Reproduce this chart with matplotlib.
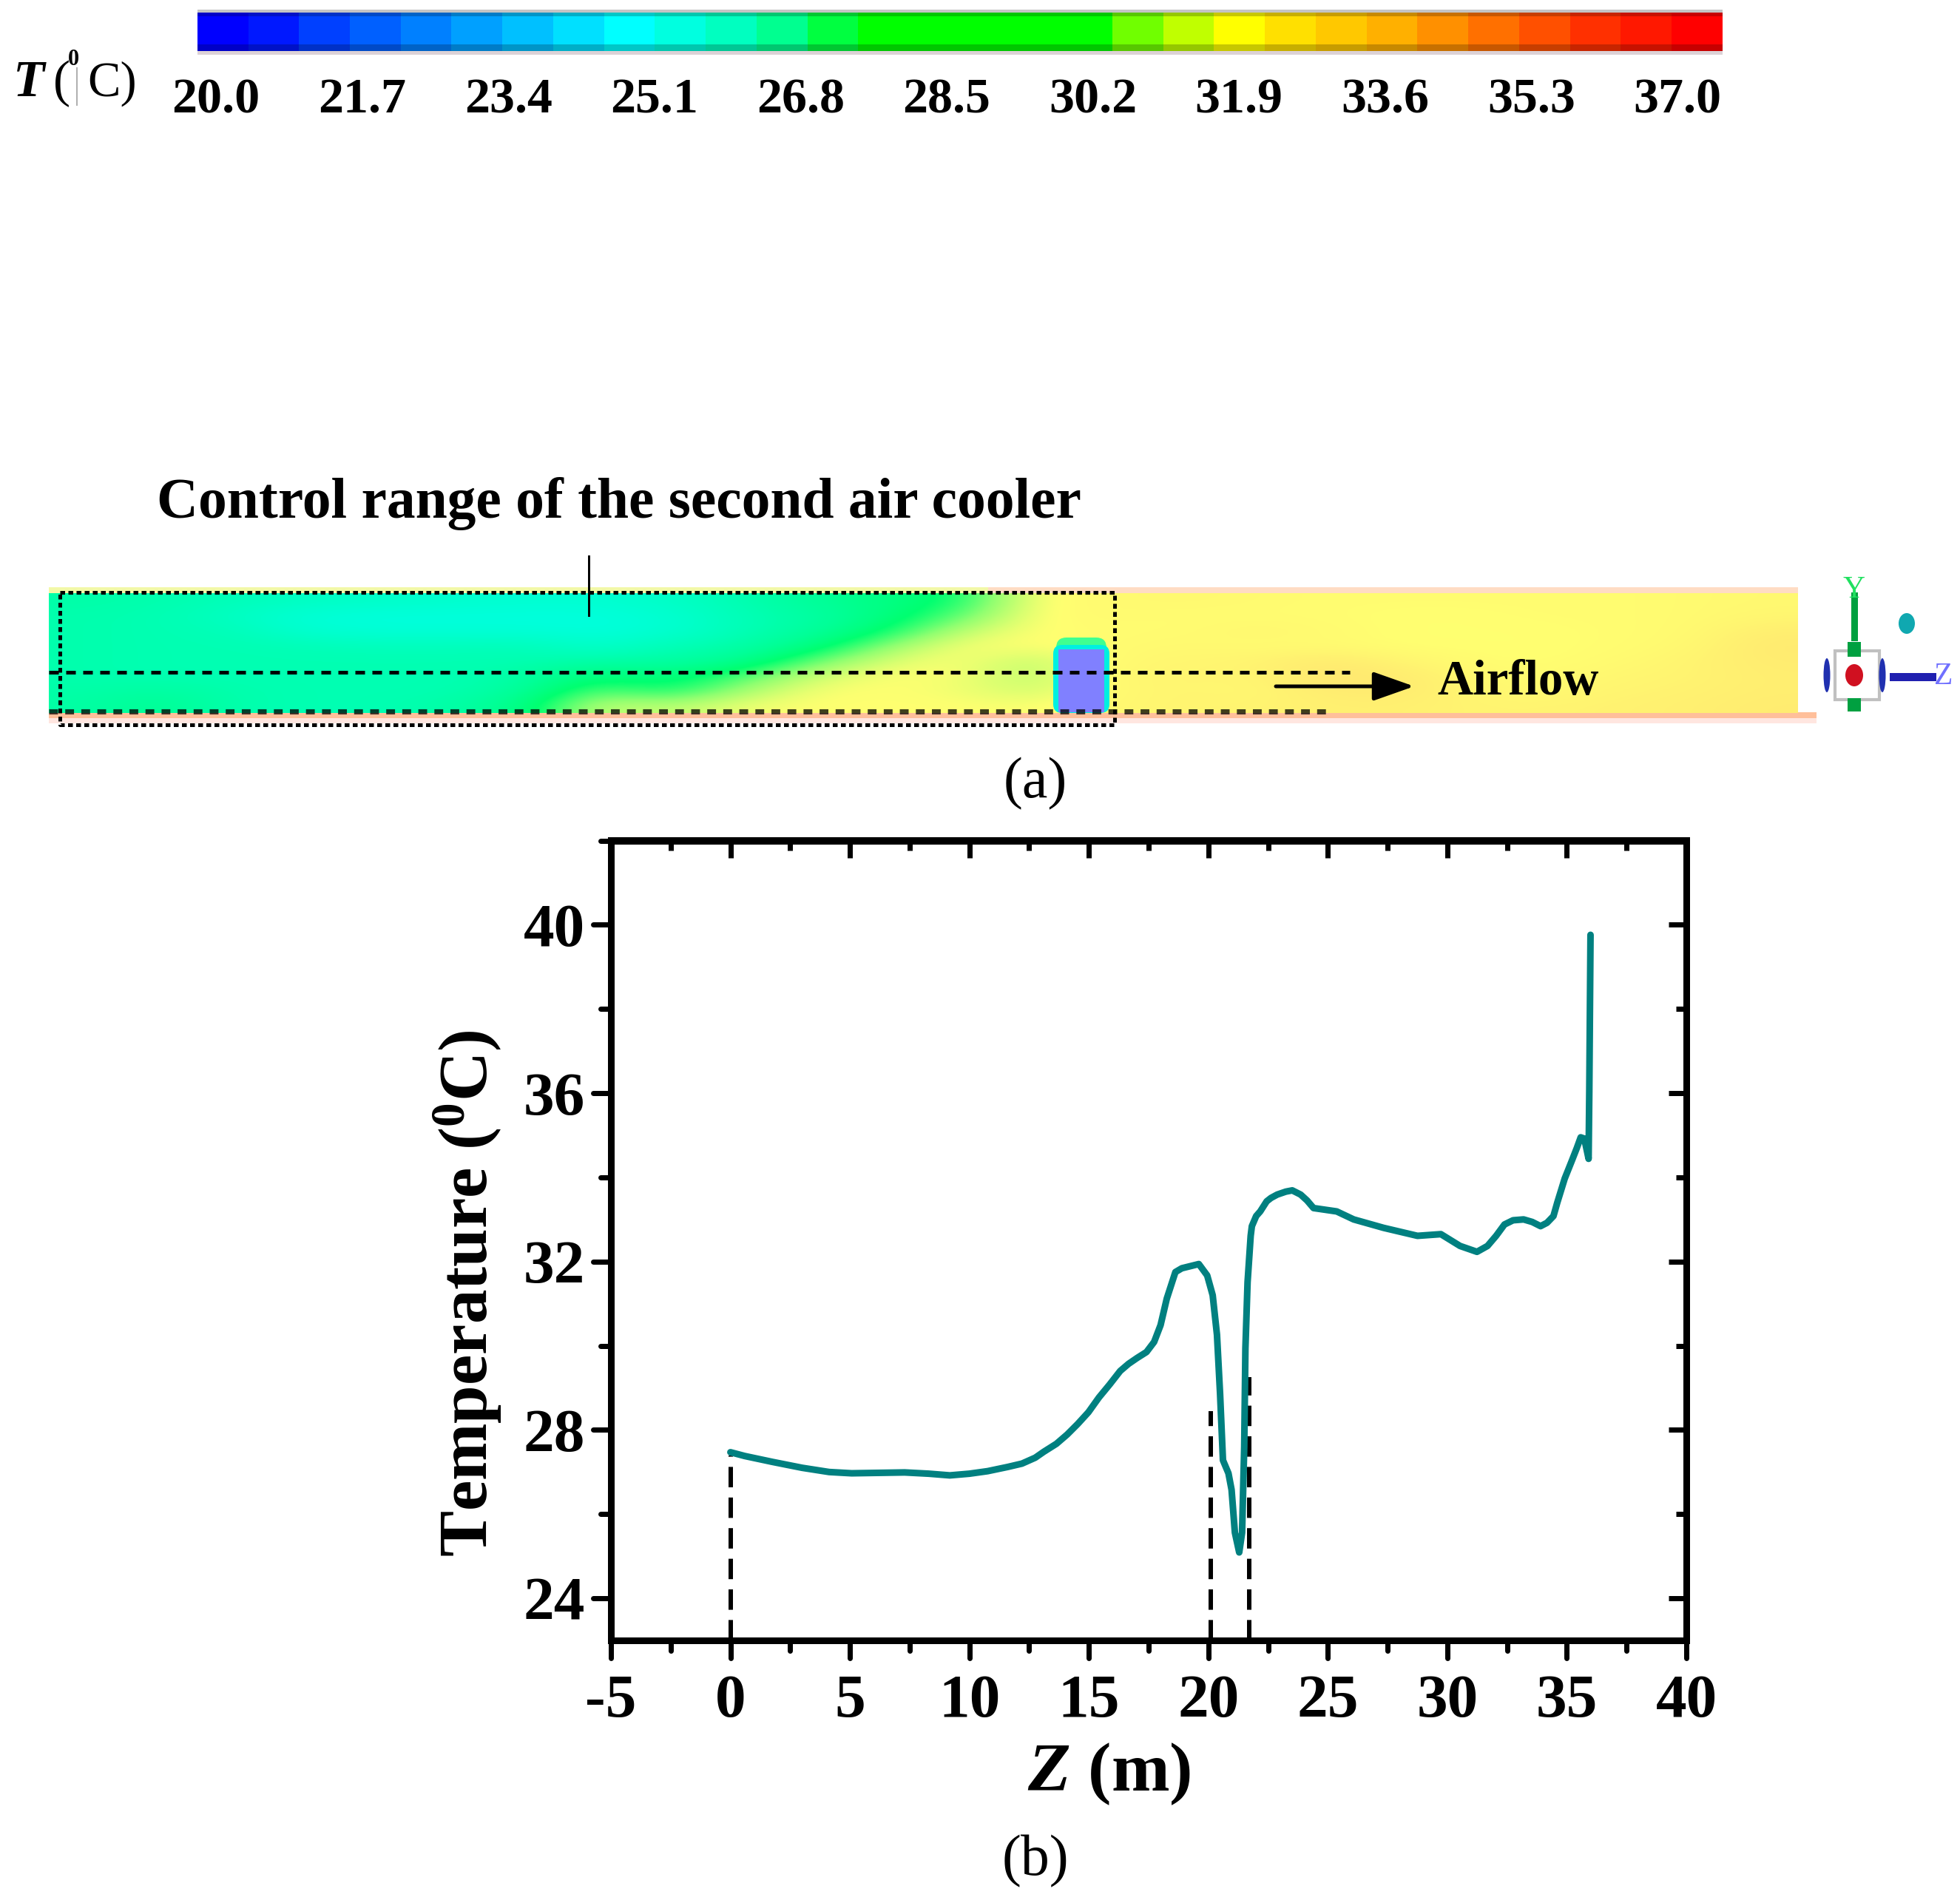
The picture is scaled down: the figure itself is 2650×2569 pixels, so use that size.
import numpy as np
import matplotlib
matplotlib.use("Agg")
import matplotlib.pyplot as plt
from matplotlib.colors import ListedColormap, LinearSegmentedColormap
from matplotlib.patches import Rectangle, FancyArrowPatch, FancyBboxPatch, Ellipse
from matplotlib import markers as mk
from matplotlib.ticker import MultipleLocator

plt.rcParams['font.family'] = ['Liberation Serif', 'DejaVu Serif']
plt.rcParams['font.weight'] = 'bold'
plt.rcParams['mathtext.fontset'] = 'custom'
plt.rcParams['mathtext.rm'] = 'Liberation Serif:bold'
plt.rcParams['mathtext.it'] = 'Liberation Serif:italic:bold'
plt.rcParams['mathtext.bf'] = 'Liberation Serif:bold'

# ---------- data ----------
z_m = [0, 0.6, 1.76, 3.0, 4.13, 5.07, 6.2, 7.29, 8.3, 9.18, 10.0, 10.76, 11.6, 12.2, 12.755,
       13.11, 13.64, 14.09, 14.53, 14.98, 15.42, 15.87, 16.31, 16.66, 17.02, 17.41, 17.73, 18.0, 18.26, 18.62,
       18.89, 19.6, 19.95, 20.18,
       20.36, 20.49, 20.61, 20.84, 20.97, 21.11, 21.29, 21.41, 21.5, 21.55, 21.64, 21.77, 21.82, 22.0, 22.17,
       22.44, 22.62, 22.88, 23.24, 23.51, 23.86, 24.13, 24.4, 25.37, 26.08, 27.33, 28.75, 29.73, 30.53, 31.24, 31.68,
       32.04, 32.39, 32.75, 33.19, 33.55, 33.9, 34.17, 34.44, 34.6, 34.91, 35.22, 35.42, 35.58, 35.73, 35.91, 35.94, 35.99]
temp_c = [27.47, 27.38, 27.24, 27.1, 27.0, 26.97, 26.98, 26.99, 26.96, 26.92, 26.96, 27.02, 27.12, 27.2, 27.34,
          27.48, 27.67, 27.89, 28.14, 28.42, 28.77, 29.08, 29.40, 29.57, 29.71, 29.85, 30.09, 30.49, 31.12, 31.75,
          31.84, 31.94, 31.67, 31.2,
          30.26, 28.85, 27.28, 26.97, 26.58, 25.56, 25.09, 25.56, 27.6, 29.94, 31.51, 32.61, 32.84, 33.08, 33.19,
          33.43, 33.51, 33.59, 33.66, 33.69, 33.59, 33.45, 33.27, 33.19, 33.0, 32.8, 32.61, 32.65, 32.37, 32.23, 32.37,
          32.61, 32.88, 32.98, 33.0, 32.94, 32.84, 32.92, 33.08, 33.4, 33.97, 34.41, 34.7, 34.95, 34.92, 34.44, 36.08, 39.76]
marker_z = [0, 20.1, 21.7]
marker_top = [27.4, 28.44, 29.26]
x_ticks = [-5, 0, 5, 10, 15, 20, 25, 30, 35, 40]
y_ticks = [24, 28, 32, 36, 40]
legend_values = [20.0, 21.7, 23.4, 25.1, 26.8, 28.5, 30.2, 31.9, 33.6, 35.3, 37.0]
legend_colors = ['#0000ff', '#0018ff', '#0040ff', '#0060ff', '#0080ff', '#00a0ff', '#00c0ff', '#00e0ff',
                 '#00ffff', '#00ffe0', '#00ffc0', '#00ff90', '#00ff40', '#00ff00', '#00ff00', '#00ff00',
                 '#00ff00', '#00ff00', '#70ff00', '#c0ff00', '#ffff00', '#ffe000', '#ffc800', '#ffb000',
                 '#ff9000', '#ff7000', '#ff5000', '#ff3000', '#ff1800', '#ff0000']
field_temp = np.array([
 [26.0,25.9,25.7,25.5,25.4,25.3,25.2,25.2,25.4,25.8,26.4,27.0,27.6,30.5,30.7,30.8,30.7,30.6,30.6,30.6,30.6,30.6,30.7,30.8],
 [25.9,25.8,25.5,25.1,25.0,25.0,25.0,25.0,25.2,25.7,26.1,27.0,28.4,30.5,30.7,30.6,30.6,30.6,30.5,30.5,30.6,30.6,30.7,30.9],
 [25.9,25.8,25.7,25.2,25.1,25.1,25.1,25.0,25.2,25.7,26.2,27.5,29.6,30.5,30.6,30.6,30.9,30.7,30.5,30.5,30.5,30.6,30.7,31.3],
 [25.9,25.8,25.8,25.7,25.6,25.6,25.7,25.3,25.7,25.9,26.9,29.0,30.4,30.5,30.6,30.8,30.6,30.7,30.5,30.5,30.5,30.6,30.8,31.5],
 [25.9,25.8,25.8,25.8,25.8,25.8,25.8,25.9,26.0,26.5,28.5,30.0,30.5,29.6,30.7,30.9,31.0,31.5,31.0,30.6,30.5,30.7,31.0,31.4],
 [25.9,25.8,25.8,25.8,25.8,25.8,26.0,27.3,27.0,28.2,29.8,30.5,30.4,29.5,30.8,31.0,30.9,31.7,31.5,30.8,30.6,30.9,31.0,31.3],
 [26.0,26.2,25.9,25.8,25.8,25.8,26.2,28.5,27.5,29.2,30.4,30.5,30.3,29.8,30.7,31.0,30.8,31.4,31.5,30.9,30.7,31.0,31.1,31.3],
 [26.1,26.6,25.9,25.8,25.8,26.0,26.8,29.8,29.5,30.3,30.5,30.5,30.5,30.4,30.8,31.0,31.0,31.2,31.2,31.0,31.0,31.1,31.2,31.4],
])
field_levels = [22.0, 23.5, 25.0, 26.0, 27.5, 29.0, 30.5, 32.0, 33.5, 35.0]
field_shades = ['#8080ff', '#00e8ff', '#00ffdc', '#00ffa8', '#00ff70', '#90ff70', '#ffff70', '#ffe070', '#ffb070', '#ff9090']

W, H = 2650, 2569
fig = plt.figure(figsize=(W / 100, H / 100), dpi=100, facecolor='white')
px = 72 / 100


def rect(x0, y0, x1, y1):
    return [x0 / W, 1 - y1 / H, (x1 - x0) / W, (y1 - y0) / H]


# ---------- overlay in pixel space ----------
ov = fig.add_axes([0, 0, 1, 1], zorder=1)
ov.axis('off')
lo, hi = field_levels[0], field_levels[-1]
fcmap = LinearSegmentedColormap.from_list(
    'field', [((v - lo) / (hi - lo), c) for v, c in zip(field_levels, field_shades)], N=512)
ov.add_patch(Rectangle((66, 794), 1270, 9, fc='#f2f8a8', ec='none', zorder=1))
ov.add_patch(Rectangle((1336, 794), 1095, 9, fc='#ffdcc4', ec='none', zorder=1))
ov.add_patch(Rectangle((66, 963), 2390, 8, fc='#ffbf9a', ec='none', zorder=1))
ov.add_patch(Rectangle((66, 971), 2390, 7, fc='#ffe6e0', ec='none', zorder=1))
ov.imshow(field_temp, extent=(66, 2431, 964, 802), cmap=fcmap, vmin=lo, vmax=hi,
          interpolation='bicubic', aspect='auto', zorder=2)
ov.set_xlim(0, W)
ov.set_ylim(H, 0)
# cooler block
ov.add_patch(FancyBboxPatch((1428, 862), 68, 102, boxstyle='round,pad=0,rounding_size=14', fc='#40ff90', ec='none', zorder=3))
ov.add_patch(FancyBboxPatch((1424, 872), 76, 92, boxstyle='round,pad=0,rounding_size=12', fc='#00f0e0', ec='none', zorder=3))
ov.add_patch(Rectangle((1431, 878), 62, 85, fc='#8080ff', ec='none', zorder=3))

ov.plot([81, 1507, 1507, 81, 81], [801, 801, 980, 980, 801], color='black', lw=5 * px,
        dashes=(1.3, 0.9), zorder=5)
ov.plot([66, 1825], [909, 909], color='black', lw=5 * px, dashes=(2.6, 2.0), zorder=5)
ov.plot([66, 1799], [962, 962], color='#000000', alpha=0.75, lw=7 * px, dashes=(1.7, 1.4), zorder=5)
ov.plot([796, 796], [752, 832], color='black', lw=3 * px, zorder=5)
ov.add_patch(FancyArrowPatch((1725, 928), (1912, 928), arrowstyle='-|>,head_length=34,head_width=12',
                             mutation_scale=1, lw=5 * px, color='black', shrinkA=0, shrinkB=0, zorder=6))
ov.text(1943, 939, 'Airflow', fontsize=48, ha='left', va='baseline', zorder=6)
ov.text(212, 700, 'Control range of the second air cooler', fontsize=55.8, ha='left', va='baseline', zorder=6)
ov.text(1400, 1060, '(a)', fontsize=56, fontweight='normal', ha='center', va='center', zorder=6)
ov.text(1400, 2517, '(b)', fontsize=56, fontweight='normal', ha='center', va='center', zorder=6)

# coordinate triad
ov.add_patch(Rectangle((2481, 880), 60, 66, fc='white', ec='#c0c0c0', lw=3, zorder=5))
ov.add_patch(Ellipse((2507, 913), 24, 30, fc='#d01020', ec='none', zorder=6))
ov.add_patch(Ellipse((2578, 843), 22, 28, fc='#10a8b0', ec='none', zorder=6))
ov.add_patch(Rectangle((2498, 868), 18, 20, fc='#00a040', ec='none', zorder=6))
ov.add_patch(Rectangle((2498, 944), 18, 18, fc='#00a040', ec='none', zorder=6))
ov.add_patch(Ellipse((2470, 913), 9, 46, fc='#2030b0', ec='none', zorder=6))
ov.add_patch(Ellipse((2545, 913), 9, 46, fc='#2030b0', ec='none', zorder=6))
ov.plot([2507, 2507], [805, 862], color='#00a040', lw=9 * px, zorder=6)
ov.plot([2560, 2612], [915, 915], color='#2020b0', lw=11 * px, zorder=6)
ov.text(2507, 778, 'Y', color='#20e060', fontsize=30, fontweight='normal', ha='center', va='top', zorder=6)
ov.text(2615, 915, 'Z', color='#7070ff', fontsize=30, fontweight='normal', ha='left', va='center', zorder=6)

# colour bar title
ov.text(18, 130, 'T', style='italic', fontsize=50, ha='left', va='baseline')
ov.text(72, 130, '(', fontsize=50, fontweight='normal', ha='left', va='baseline')
ov.text(92, 88, '0', fontsize=22, ha='left', va='baseline')
ov.text(118, 130, 'C)', fontsize=48, fontweight='normal', ha='left', va='baseline')
ov.plot([104, 104], [92, 142], color='#b0b0b0', lw=2 * px)

# ---------- colour bar ----------
cb = fig.add_axes(rect(267, 17, 2329, 69), zorder=2)
cb_left = 20 - 25 / 116.2
cb_right = 37 + 61 / 116.2
cb.imshow(np.arange(len(legend_colors))[None, :], cmap=ListedColormap(legend_colors), aspect='auto',
          extent=(cb_left, cb_right, 0, 1), interpolation='nearest')
cb.set_xlim(cb_left, cb_right)
cb.set_yticks([])
cb.set_xticks(legend_values)
cb.set_xticklabels([f'{v:.1f}' for v in legend_values], fontsize=49, fontweight='bold')
cb.tick_params(axis='x', length=0, pad=26)
for s in cb.spines.values():
    s.set_visible(False)
cb.add_patch(Rectangle((0, 0.9), 1, 0.1, transform=cb.transAxes, fc='black', alpha=0.22, ec='none'))
cb.add_patch(Rectangle((0, 0), 1, 0.17, transform=cb.transAxes, fc='black', alpha=0.22, ec='none'))
ov.add_patch(Rectangle((267, 13), 2062, 4, fc='#c4c4c4', ec='none'))
ov.add_patch(Rectangle((267, 69), 2062, 5, fc='#dcd2d6', ec='none'))

# ---------- line chart ----------
ax = fig.add_axes(rect(826, 1136.5, 2280, 2218), zorder=3)
ax.patch.set_alpha(0)
for zm, top_t in zip(marker_z, marker_top):
    ax.plot([zm, zm], [23, top_t], color='black', lw=6 * px, linestyle=(0, (4.6, 2.3)), dash_capstyle='butt', zorder=2)
ax.plot(z_m, temp_c, color='#008080', lw=9 * px, solid_joinstyle='round', solid_capstyle='round', zorder=3)
ax.set_xlim(-5, 40)
ax.set_ylim(23, 42)
ax.xaxis.set_major_locator(plt.FixedLocator(x_ticks))
ax.yaxis.set_major_locator(plt.FixedLocator(y_ticks))
ax.minorticks_on()
ax.xaxis.set_minor_locator(MultipleLocator(2.5))
ax.yaxis.set_minor_locator(MultipleLocator(2))
ax.set_xticklabels([str(v) for v in x_ticks])
ax.set_yticklabels([str(v) for v in y_ticks])
for s in ax.spines.values():
    s.set_linewidth(9 * px)
ax.tick_params(which='major', length=24 * px, width=7 * px, direction='out', labelsize=60)
ax.tick_params(which='minor', length=14 * px, width=7 * px, direction='out')
ax.tick_params(axis='x', which='major', pad=16)
ax.tick_params(axis='y', which='major', pad=8)
ax.set_xlabel(r'$\mathit{Z}$ (m)', fontsize=68, fontweight='bold')
ax.set_ylabel(r'Temperature ($\mathregular{^{0}}$C)', fontsize=67, fontweight='bold')
ax.xaxis.set_label_coords((1500 - 826) / 1454, -(2421 - 2218) / 1082, transform=ax.transAxes)
ax.xaxis.label.set_verticalalignment('baseline')
ax.yaxis.set_label_coords(-(826 - 659) / 1454, (2218 - 1749) / 1082, transform=ax.transAxes)
ax.yaxis.label.set_verticalalignment('baseline')

top = ax.secondary_xaxis('top')
right = ax.secondary_yaxis('right')
for sec, loc in ((top, x_ticks), (right, y_ticks)):
    sec.set_ticks(loc)
    sec.minorticks_on()
    sec.tick_params(which='major', length=24 * px, width=7 * px, direction='in', labelsize=0,
                    labeltop=False, labelright=False)
    sec.tick_params(which='minor', length=14 * px, width=7 * px, direction='in')
    for s in sec.spines.values():
        s.set_linewidth(9 * px)
top.xaxis.set_minor_locator(MultipleLocator(2.5))
right.yaxis.set_minor_locator(MultipleLocator(2))
top.set_xticklabels([])
right.set_yticklabels([])


def round_caps(axis):
    for tick in axis.get_major_ticks() + axis.get_minor_ticks():
        for ln in (tick.tick1line, tick.tick2line):
            ln.set_marker(mk.MarkerStyle(ln.get_marker(), capstyle='round'))


round_caps(ax.xaxis)
round_caps(ax.yaxis)

fig.savefig('out.png', dpi=100, facecolor='white')
